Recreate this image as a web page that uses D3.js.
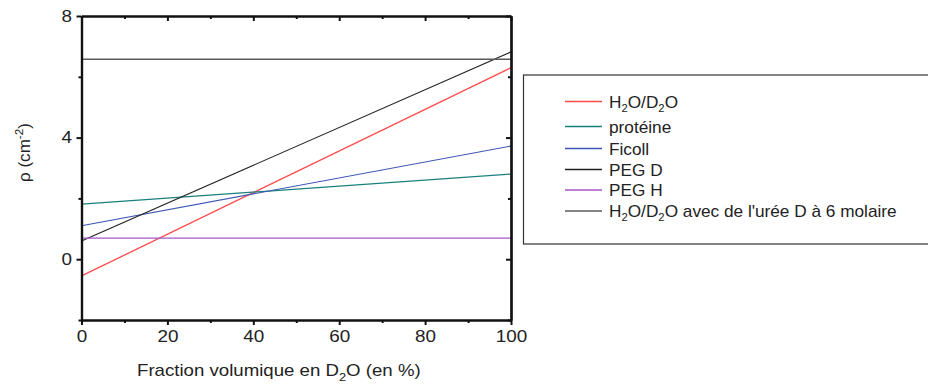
<!DOCTYPE html>
<html>
<head>
<meta charset="utf-8">
<script src="https://cdn.jsdelivr.net/npm/d3@7"></script>
<style>
  body { margin: 0; background: #fff; }
  svg { display: block; font-family: "Liberation Sans", Arial, Helvetica, sans-serif; }
</style>
</head>
<body>
<svg id="chart" width="928" height="385"></svg>
<script>
// Densité de longueur de diffusion en fonction de la fraction de D2O
const xDomain = [0, 100];
const yDomain = [-2, 8];
const xTicksMajor = [0, 20, 40, 60, 80, 100];
const xTicksMinor = [10, 30, 50, 70, 90];
const yTicksMajor = [0, 4, 8];
const yTicksMinor = [-2, 2, 6];

const seriesNames = ["H2O/D2O", "protéine", "Ficoll", "PEG D", "PEG H", "urée"];
const seriesColors = ["#ff4a4a", "#17807c", "#3d55b5", "#222222", "#a457c8", "#5a5a5a"];
const seriesWidths = [1.3, 1.3, 1.1, 1.1, 1.3, 1.5];
// valeurs à 0 % et 100 % de D2O
const valuesAt0 = [-0.55, 1.81, 1.10, 0.60, 0.69, 6.58];
const valuesAt100 = [6.30, 2.80, 3.72, 6.82, 0.69, 6.58];

const svg = d3.select("#chart");
const m = { left: 81.5, right: 511, top: 16, bottom: 320 };
const x = d3.scaleLinear().domain(xDomain).range([m.left, m.right]);
const y = d3.scaleLinear().domain(yDomain).range([m.bottom, m.top]);
const fs = 16;
const stretch = 1.18;

// étire horizontalement un texte jusqu'à la largeur voulue
function fitWidth(text, width) {
  const w = text.node().getBBox().width;
  text.attr("transform", `scale(${width / w},1)`);
}

// courbes
const line = d3.line().x(d => x(d[0])).y(d => y(d[1]));
const plot = svg.append("g");
seriesNames.forEach((name, i) => {
  plot.append("path")
    .attr("d", line([[xDomain[0], valuesAt0[i]], [xDomain[1], valuesAt100[i]]]))
    .attr("fill", "none")
    .attr("stroke", seriesColors[i])
    .attr("stroke-width", seriesWidths[i]);
});

// axes
function styleAxis(g) {
  g.select(".domain").attr("stroke", "#111").attr("stroke-width", 2.2);
  g.selectAll(".tick line").attr("stroke", "#111").attr("stroke-width", 2);
  g.selectAll("text").attr("fill", "#222").attr("font-size", fs)
    .attr("transform", `scale(${stretch},1)`);
}
svg.append("g").attr("transform", `translate(0,${m.bottom})`)
  .call(d3.axisBottom(x).tickValues(xTicksMajor).tickSize(5).tickPadding(6).tickSizeOuter(0))
  .call(styleAxis);
svg.append("g").attr("transform", `translate(0,${m.bottom})`)
  .call(d3.axisBottom(x).tickValues(xTicksMinor).tickSize(3).tickFormat("").tickSizeOuter(0))
  .call(styleAxis);
svg.append("g").attr("transform", `translate(0,${m.top})`)
  .call(d3.axisBottom(x).tickValues(xTicksMajor).tickSize(5).tickFormat("").tickSizeOuter(0))
  .call(styleAxis);
svg.append("g").attr("transform", `translate(0,${m.top})`)
  .call(d3.axisBottom(x).tickValues(xTicksMinor).tickSize(3).tickFormat("").tickSizeOuter(0))
  .call(styleAxis);
svg.append("g").attr("transform", `translate(${m.left},0)`)
  .call(d3.axisLeft(y).tickValues(yTicksMajor).tickSize(5).tickPadding(3).tickSizeOuter(0))
  .call(styleAxis);
svg.append("g").attr("transform", `translate(${m.left},0)`)
  .call(d3.axisLeft(y).tickValues(yTicksMinor).tickSize(3).tickFormat("").tickSizeOuter(0))
  .call(styleAxis);
svg.append("g").attr("transform", `translate(${m.right},0)`)
  .call(d3.axisLeft(y).tickValues(yTicksMajor).tickSize(5).tickFormat("").tickSizeOuter(0))
  .call(styleAxis);
svg.append("g").attr("transform", `translate(${m.right},0)`)
  .call(d3.axisLeft(y).tickValues(yTicksMinor).tickSize(3).tickFormat("").tickSizeOuter(0))
  .call(styleAxis);

// titres des axes
const xt = svg.append("g").attr("transform", "translate(137,376)")
  .append("text").attr("font-size", fs).attr("fill", "#222");
xt.append("tspan").text("Fraction volumique en D");
xt.append("tspan").text("2").attr("font-size", 11).attr("dy", 5);
xt.append("tspan").text("O (en %)").attr("dy", -5);
fitWidth(xt, 284);

const yt = svg.append("g").attr("transform", "translate(30,182) rotate(-90)")
  .append("text").attr("font-size", fs).attr("fill", "#222");
yt.append("tspan").text("ρ (cm");
yt.append("tspan").text("-2").attr("font-size", 11).attr("dy", -7);
yt.append("tspan").text(")").attr("dy", 7);
fitWidth(yt, 59);

// légende
svg.append("rect")
  .attr("x", 523.5).attr("y", 75).attr("width", 420).attr("height", 169)
  .attr("fill", "none").attr("stroke", "#333").attr("stroke-width", 1.2);

const legendLabels = [
  [["H", 0], ["2", 1], ["O/D", 0], ["2", 1], ["O", 0]],
  [["protéine", 0]],
  [["Ficoll", 0]],
  [["PEG D", 0]],
  [["PEG H", 0]],
  [["H", 0], ["2", 1], ["O/D", 0], ["2", 1], ["O avec de l'urée D à 6 molaire", 0]]
];
const legendY = [101.5, 126.5, 148.5, 169.5, 190, 211];
const lg = svg.append("g");
const legendTexts = [];
legendLabels.forEach((parts, i) => {
  lg.append("line")
    .attr("x1", 565).attr("x2", 602)
    .attr("y1", legendY[i]).attr("y2", legendY[i])
    .attr("stroke", seriesColors[i]).attr("stroke-width", 1.3);
  const t = lg.append("g").attr("transform", `translate(609,${legendY[i] + 6})`)
    .append("text").attr("font-size", fs).attr("fill", "#222");
  let sub = 0;
  parts.forEach(([s, isSub]) => {
    const ts = t.append("tspan").text(s);
    if (isSub) ts.attr("font-size", 10.5);
    const dy = (isSub ? 4 : 0) - sub;
    if (dy) ts.attr("dy", dy);
    sub = isSub ? 4 : 0;
  });
  legendTexts.push(t);
});
// même étirement pour toutes les entrées, calé sur la plus longue
const last = legendTexts[legendTexts.length - 1];
const legendScale = 288 / last.node().getBBox().width;
legendTexts.forEach(t => t.attr("transform", `scale(${legendScale},1)`));
</script>
</body>
</html>
